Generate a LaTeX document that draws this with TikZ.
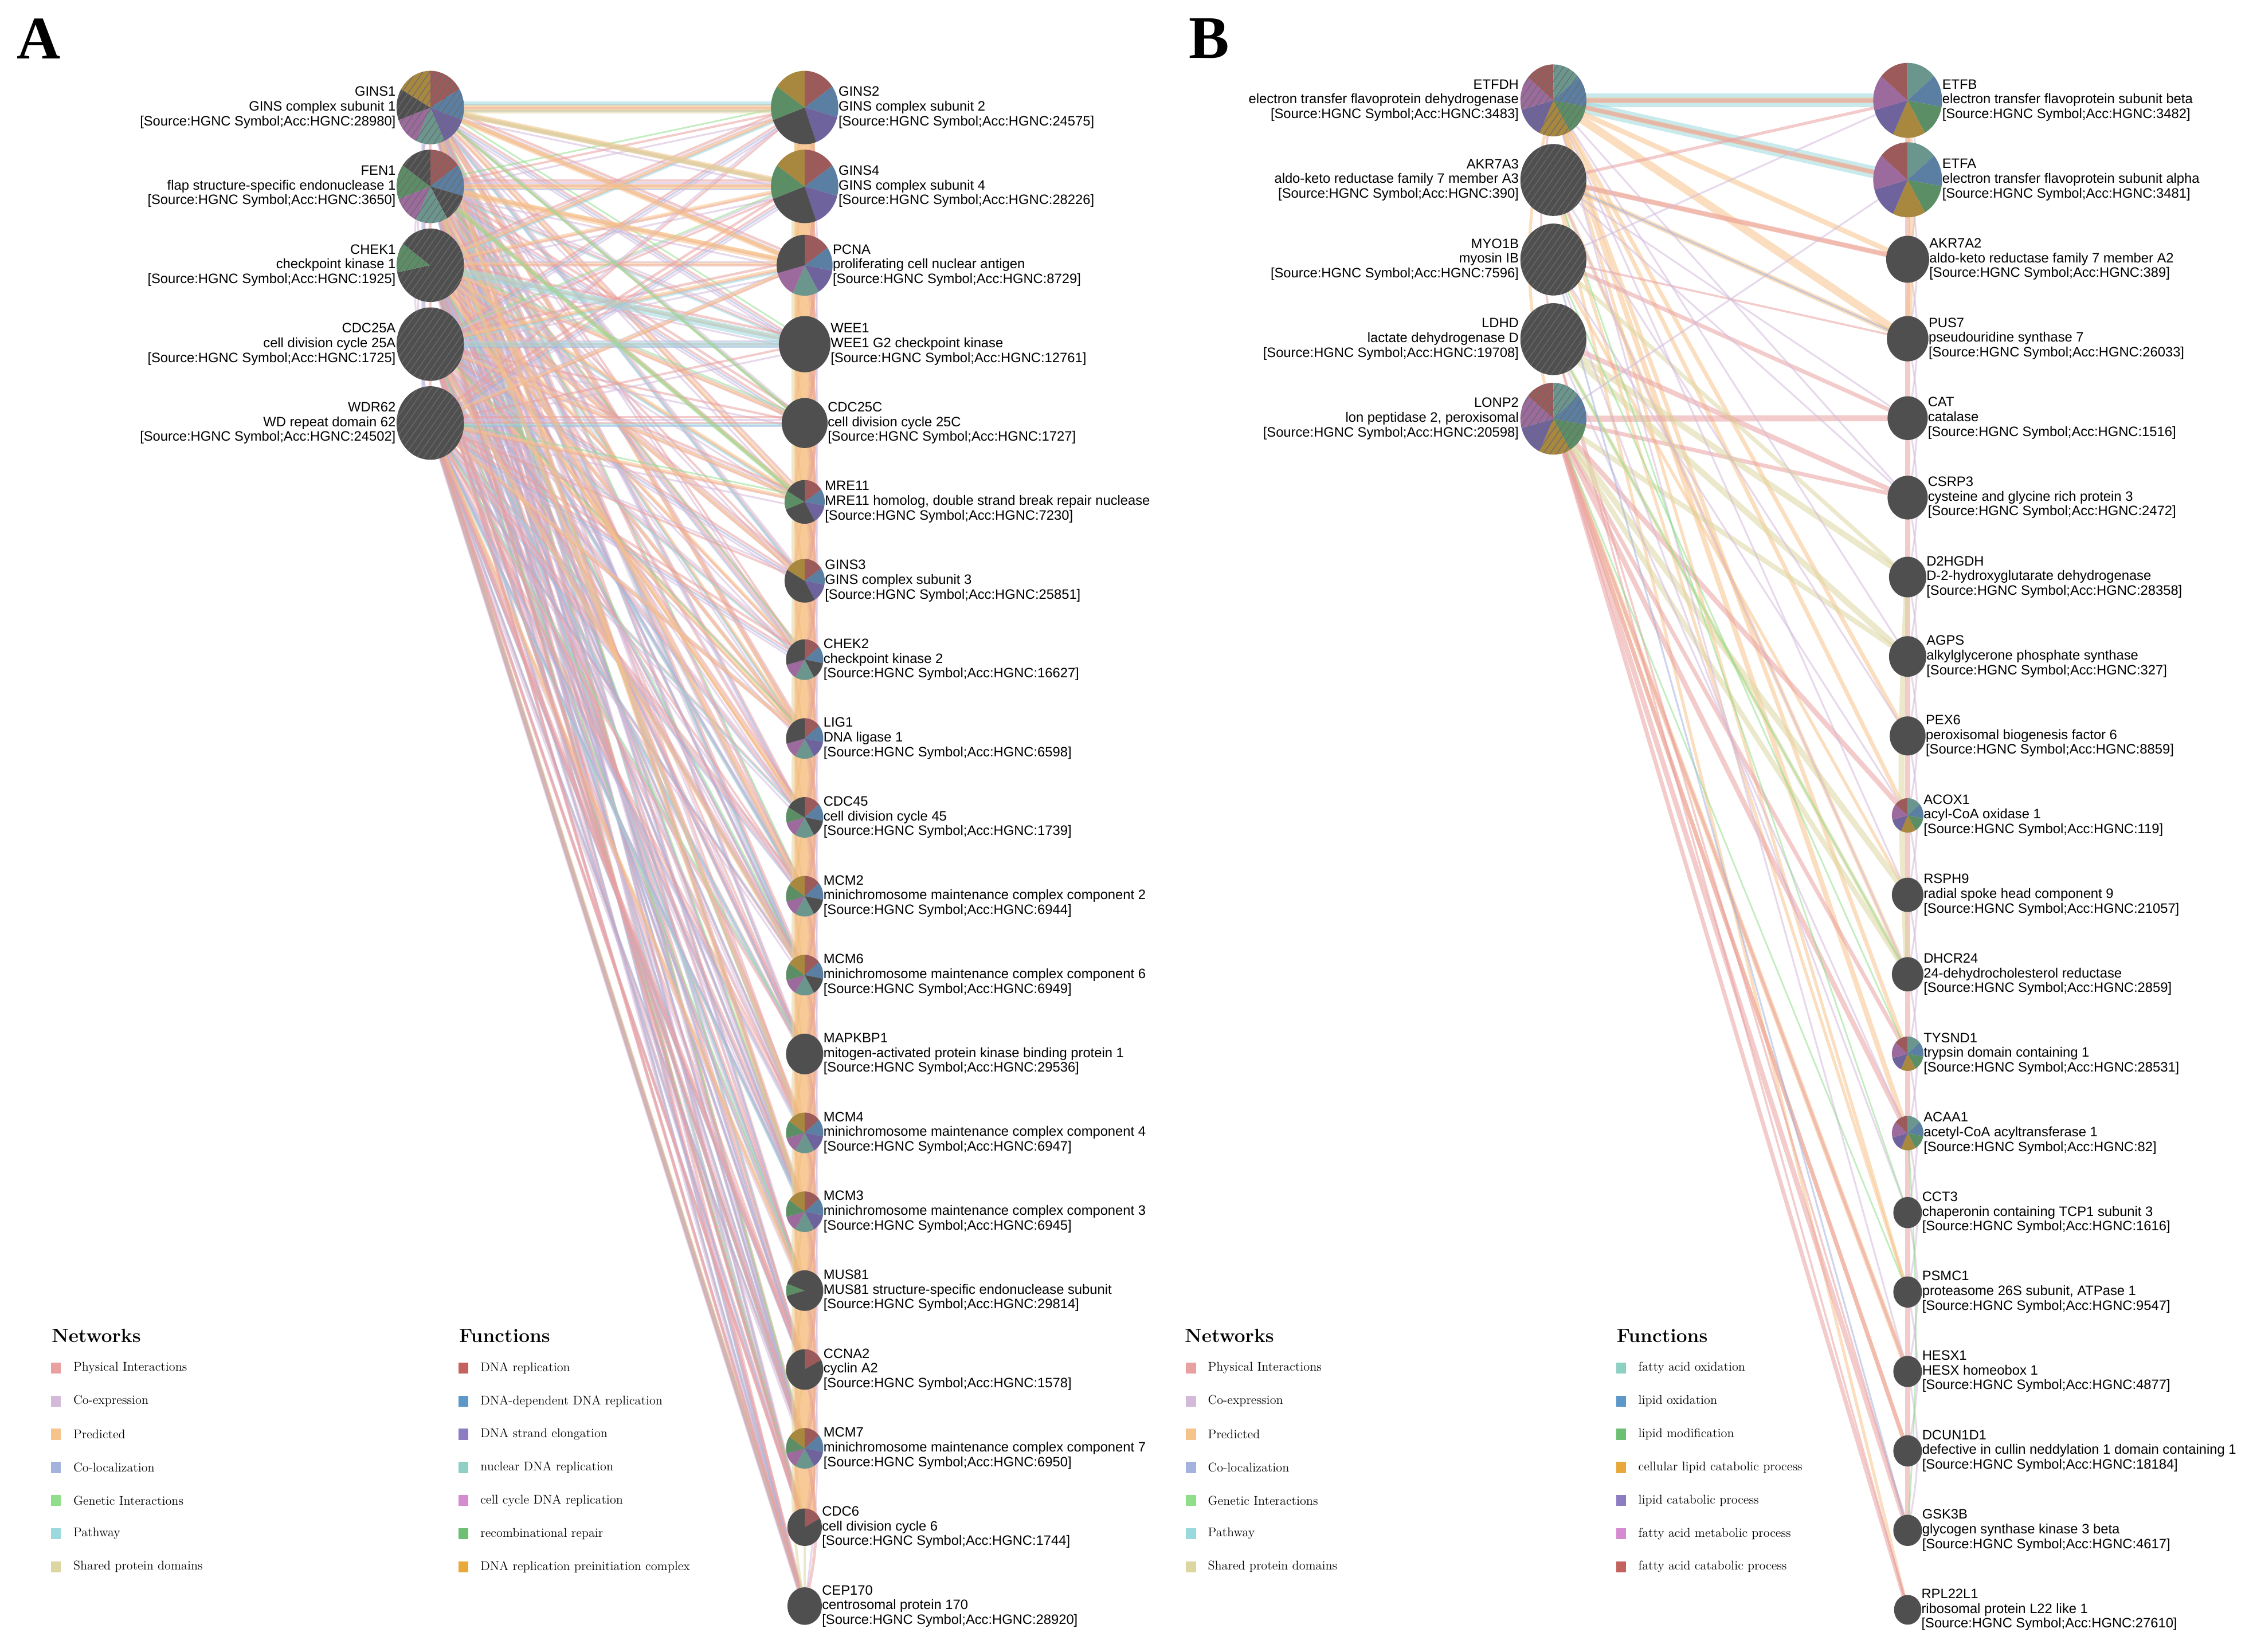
\documentclass[tikz,border=0pt]{standalone}
\usepackage{fontspec}
\usepackage{tikz}
\usetikzlibrary{calc,positioning,patterns.meta}
\newfontfamily\genefont{Liberation Sans}
\newfontfamily\panelfont{Liberation Serif}

\pgfdeclarelayer{bg}
\pgfsetlayers{bg,main}

% network colours
\definecolor{physc}{RGB}{233,160,160}
\definecolor{coexpc}{RGB}{211,186,219}
\definecolor{predc}{RGB}{246,195,138}
\definecolor{colocc}{RGB}{163,179,222}
\definecolor{genc}{RGB}{144,222,138}
\definecolor{pathc}{RGB}{154,217,222}
\definecolor{shdomc}{RGB}{220,214,161}
\definecolor{bandc}{RGB}{245,184,118}
% function colours
\definecolor{fred}{RGB}{196,98,94}
\definecolor{fblue}{RGB}{94,152,200}
\definecolor{fpurple}{RGB}{142,124,195}
\definecolor{fteal}{RGB}{143,208,197}
\definecolor{fpink}{RGB}{212,139,208}
\definecolor{fgreen}{RGB}{109,191,115}
\definecolor{fgold}{RGB}{232,168,58}
% pie slices
\definecolor{pcR}{RGB}{156,90,90}
\definecolor{pcB}{RGB}{90,127,163}
\definecolor{pcP}{RGB}{111,99,158}
\definecolor{pcT}{RGB}{107,150,142}
\definecolor{pcK}{RGB}{156,106,156}
\definecolor{pcG}{RGB}{92,142,102}
\definecolor{pcO}{RGB}{168,135,63}
\definecolor{pcD}{RGB}{79,79,79}
\definecolor{hatchc}{RGB}{108,108,108}

\newcommand{\hgnc}[1]{[Source:HGNC Symbol;Acc:HGNC:#1]}
% pie: centre, x radius, slices (from/to clockwise from top/colour)
\newcommand{\genepie}[3]{%
  \edef\pielist{#3}%
  \foreach \angA/\angB/\slc in \pielist
    \fill[\slc] (#1) -- ++({#2*cos(\angA-90)},{1.09*#2*sin(\angA-90)})
      arc[start angle=\angA-90, end angle=\angB-90, x radius=#2, y radius=1.09*#2] -- cycle;
}
\newcommand{\genehatch}[2]{%
  \fill[pattern={Lines[angle=55,distance=5.5pt,line width=.7pt]}, pattern color=hatchc]
    (#1) ellipse[x radius=#2, y radius=1.09*#2];
}

\def\pieDark{0/360/pcD}
\def\pieGINSone{0/60/pcR,60/110/pcB,110/155/pcP,155/205/pcT,205/250/pcK,250/300/pcD,300/360/pcO}
\def\pieFEN{0/55/pcR,55/105/pcB,105/150/pcD,150/205/pcT,205/250/pcK,250/305/pcG,305/360/pcD}
\def\pieCHEK{0/259/pcD,259/306/pcG,306/360/pcD}
\def\pieGINS{0/55/pcR,55/105/pcB,105/160/pcP,160/250/pcD,250/305/pcG,305/360/pcO}
\def\piePCNA{0/55/pcR,55/100/pcB,100/150/pcP,150/205/pcT,205/255/pcK,255/360/pcD}
\def\pieMRE{0/55/pcR,55/100/pcB,100/150/pcP,150/250/pcD,250/300/pcG,300/360/pcD}
\def\pieGINSthree{0/55/pcR,55/100/pcB,100/150/pcP,150/300/pcD,300/360/pcO}
\def\pieCHEKtwo{0/50/pcR,50/100/pcB,100/150/pcD,150/210/pcT,210/255/pcK,255/360/pcD}
\def\pieLIG{0/50/pcR,50/100/pcB,100/150/pcP,150/210/pcT,210/255/pcK,255/360/pcD}
\def\pieCDC{0/50/pcR,50/100/pcB,100/150/pcD,150/210/pcT,210/255/pcK,255/300/pcG,300/360/pcD}
\def\pieMCMa{0/50/pcR,50/100/pcB,100/150/pcD,150/210/pcT,210/255/pcK,255/305/pcG,305/360/pcO}
\def\pieMCMb{0/50/pcR,50/100/pcB,100/150/pcP,150/210/pcT,210/255/pcK,255/305/pcG,305/360/pcO}
\def\pieMUS{0/255/pcD,255/290/pcG,290/360/pcD}
\def\pieCCNA{0/62/pcR,62/360/pcD}
\def\pieETF{0/50/pcT,50/100/pcB,100/150/pcG,150/205/pcO,205/255/pcP,255/310/pcK,310/360/pcR}

\tikzset{
  netline/.style={line cap=round, opacity=.55},
  phys/.style={netline, draw=physc, line width=#1}, phys/.default=2.2pt,
  coexp/.style={netline, draw=coexpc, line width=#1}, coexp/.default=1.8pt,
  pred/.style={netline, draw=predc, line width=#1}, pred/.default=2pt,
  coloc/.style={netline, draw=colocc, line width=#1}, coloc/.default=1.8pt,
  genint/.style={netline, draw=genc, line width=#1}, genint/.default=1.6pt,
  pathw/.style={netline, draw=pathc, line width=#1}, pathw/.default=2pt,
  shdom/.style={netline, draw=shdomc, line width=#1}, shdom/.default=2pt,
  band/.style={line cap=round, opacity=.75, draw=bandc, line width=#1},
  glab/.style={font=\genefont\fontsize{13.5}{14.6}\selectfont, inner sep=0pt},
  llab/.style={glab, anchor=east, align=right},
  rlab/.style={glab, anchor=west, align=left},
  legsq/.style={minimum width=0.35cm, minimum height=0.39cm, inner sep=0pt},
  legtxt/.style={font=\fontsize{12.6}{14}\selectfont, inner sep=0pt, anchor=west},
  legtitle/.style={font=\bfseries\fontsize{19}{21}\selectfont, inner sep=0pt, anchor=base west},
  paneltitle/.style={font=\panelfont\bfseries\fontsize{60}{60}\selectfont, inner sep=0pt}
}

\begin{document}
\begin{tikzpicture}[x=0.05cm, y=-0.05cm]
\useasboundingbox (0,0) rectangle (1568,1152);

\node[paneltitle] (titleA) at (27,27) {A};
\node[paneltitle] (titleB) at (843,27) {B};

% ---- panel A: query genes
\foreach \q/\gn/\gd/\ga/\ps in {
  1/GINS1/GINS complex subunit 1/28980/\pieGINSone,
  2/FEN1/flap structure-specific endonuclease 1/3650/\pieFEN,
  3/CHEK1/checkpoint kinase 1/1925/\pieCHEK,
  4/CDC25A/cell division cycle 25A/1725/\pieDark,
  5/WDR62/WD repeat domain 62/24502/\pieDark}{
  \coordinate (aL\q) at (300,{75+55*(\q-1)});
  \genepie{aL\q}{23.5}{\ps}
  \genehatch{aL\q}{23.5}
  \node[llab] (aLt\q) at (276,{75+55*(\q-1)}) {\gn\\\gd\\\hgnc{\ga}};
}
% ---- panel A: related genes
\foreach \q/\rad/\gn/\gd/\ga/\ps in {
  1/23.5/GINS2/GINS complex subunit 2/24575/\pieGINS,
  2/23.5/GINS4/GINS complex subunit 4/28226/\pieGINS,
  3/19.5/PCNA/proliferating cell nuclear antigen/8729/\piePCNA,
  4/18/WEE1/WEE1 G2 checkpoint kinase/12761/\pieDark,
  5/16/CDC25C/cell division cycle 25C/1727/\pieDark,
  6/14/MRE11/{MRE11 homolog, double strand break repair nuclease}/7230/\pieMRE,
  7/14/GINS3/GINS complex subunit 3/25851/\pieGINSthree,
  8/13/CHEK2/checkpoint kinase 2/16627/\pieCHEKtwo,
  9/13/LIG1/DNA ligase 1/6598/\pieLIG,
  10/13/CDC45/cell division cycle 45/1739/\pieCDC,
  11/13/MCM2/minichromosome maintenance complex component 2/6944/\pieMCMa,
  12/13/MCM6/minichromosome maintenance complex component 6/6949/\pieMCMa,
  13/13/MAPKBP1/mitogen-activated protein kinase binding protein 1/29536/\pieDark,
  14/13/MCM4/minichromosome maintenance complex component 4/6947/\pieMCMb,
  15/13/MCM3/minichromosome maintenance complex component 3/6945/\pieMCMb,
  16/13/MUS81/MUS81 structure-specific endonuclease subunit/29814/\pieMUS,
  17/13/CCNA2/cyclin A2/1578/\pieCCNA,
  18/13/MCM7/minichromosome maintenance complex component 7/6950/\pieMCMb,
  19/12/CDC6/cell division cycle 6/1744/\pieCCNA,
  20/12/CEP170/centrosomal protein 170/28920/\pieDark}{
  \coordinate (aR\q) at (561,{75+55*(\q-1)});
  \genepie{aR\q}{\rad}{\ps}
  \node[rlab] (aRt\q) at ({561+\rad},{75+55*(\q-1)}) {\gn\\\gd\\\hgnc{\ga}};
}

% ---- panel B: query genes
\foreach \q/\gn/\gd/\ga/\ps in {
  1/ETFDH/electron transfer flavoprotein dehydrogenase/3483/\pieETF,
  2/AKR7A3/aldo-keto reductase family 7 member A3/390/\pieDark,
  3/MYO1B/myosin IB/7596/\pieDark,
  4/LDHD/lactate dehydrogenase D/19708/\pieDark,
  5/LONP2/{lon peptidase 2, peroxisomal}/20598/\pieETF}{
  \coordinate (bL\q) at (1083,{70+55.5*(\q-1)});
  \genepie{bL\q}{23}{\ps}
  \genehatch{bL\q}{23}
  \node[llab] (bLt\q) at (1059,{70+55.5*(\q-1)}) {\gn\\\gd\\\hgnc{\ga}};
}
% ---- panel B: related genes
\foreach \q/\rad/\gn/\gd/\ga/\ps in {
  1/24/ETFB/electron transfer flavoprotein subunit beta/3482/\pieETF,
  2/24/ETFA/electron transfer flavoprotein subunit alpha/3481/\pieETF,
  3/15/AKR7A2/aldo-keto reductase family 7 member A2/389/\pieDark,
  4/14.5/PUS7/pseudouridine synthase 7/26033/\pieDark,
  5/14/CAT/catalase/1516/\pieDark,
  6/14/CSRP3/cysteine and glycine rich protein 3/2472/\pieDark,
  7/13/D2HGDH/D-2-hydroxyglutarate dehydrogenase/28358/\pieDark,
  8/13/AGPS/alkylglycerone phosphate synthase/327/\pieDark,
  9/12.5/PEX6/peroxisomal biogenesis factor 6/8859/\pieDark,
  10/11/ACOX1/acyl-CoA oxidase 1/119/\pieETF,
  11/11/RSPH9/radial spoke head component 9/21057/\pieDark,
  12/11/DHCR24/24-dehydrocholesterol reductase/2859/\pieDark,
  13/11/TYSND1/trypsin domain containing 1/28531/\pieETF,
  14/11/ACAA1/acetyl-CoA acyltransferase 1/82/\pieETF,
  15/10/CCT3/chaperonin containing TCP1 subunit 3/1616/\pieDark,
  16/10/PSMC1/{proteasome 26S subunit, ATPase 1}/9547/\pieDark,
  17/10/HESX1/HESX homeobox 1/4877/\pieDark,
  18/10/DCUN1D1/defective in cullin neddylation 1 domain containing 1/18184/\pieDark,
  19/10/GSK3B/glycogen synthase kinase 3 beta/4617/\pieDark,
  20/9.5/RPL22L1/ribosomal protein L22 like 1/27610/\pieDark}{
  \coordinate (bR\q) at (1330,{70+55.4*(\q-1)});
  \genepie{bR\q}{\rad}{\ps}
  \node[rlab] (bRt\q) at ({1330+\rad},{70+55.4*(\q-1)}) {\gn\\\gd\\\hgnc{\ga}};
}

\begin{pgfonlayer}{bg}
% panel A: query genes to related genes
\foreach \i in {1,...,5}
  \foreach \j in {1,...,20}{
    \draw[phys] (aL\i) -- (aR\j);
    \pgfmathtruncatemacro\ka{mod(\i+\j,2)}
    \pgfmathtruncatemacro\kb{mod(\i*\j,3)}
    \pgfmathtruncatemacro\kc{mod(\i+2*\j,5)}
    \pgfmathtruncatemacro\kd{mod(3*\i+\j,7)}
    \pgfmathtruncatemacro\ke{mod(\i+\j,3)}
    \ifnum\ka=0 \draw[coexp] ([yshift=3pt]aL\i) -- ([yshift=3pt]aR\j);\fi
    \ifnum\ka=1 \draw[coexp] ([yshift=-6pt]aL\i) -- ([yshift=-6pt]aR\j);\fi
    \ifnum\kb=1 \draw[coloc] ([yshift=-3pt]aL\i) -- ([yshift=-3pt]aR\j);\fi
    \ifnum\kb=0
      \ifnum\j<11 \draw[pred=3pt] ([yshift=1.5pt]aL\i) -- ([yshift=1.5pt]aR\j);
      \else \draw[coloc=2.2pt] ([yshift=1.5pt]aL\i) -- ([yshift=1.5pt]aR\j);\fi
    \fi
    \ifnum\ke=1 \draw[phys=2.5pt] ([yshift=6pt]aL\i) -- ([yshift=6pt]aR\j);\fi
    \ifnum\kc=0 \draw[pathw] ([yshift=-1.5pt]aL\i) -- ([yshift=-1.5pt]aR\j);\fi
    \ifnum\kd=0 \draw[genint] ([yshift=5pt]aL\i) -- ([yshift=5pt]aR\j);\fi
  }
\foreach \i/\j/\w in {1/1/7pt,1/2/6pt,2/2/5pt,1/3/5pt,2/3/6pt,2/11/4pt,2/14/4pt,1/15/4pt,3/10/3pt,4/12/4pt,5/16/4pt}
  \draw[pred=\w] (aL\i) -- (aR\j);
\foreach \i/\j/\w in {5/20/4pt,5/19/3pt,4/20/3pt,4/18/3pt,3/19/3pt,5/17/3pt}
  \draw[phys=\w] (aL\i) -- (aR\j);
\draw[pathw=8pt] (aL3) -- (aR4);
\draw[pathw=5pt] (aL4) -- (aR4);
\draw[pathw=4pt] ([yshift=4pt]aL1) -- ([yshift=4pt]aR1);
\draw[genint=4pt] (aL2) -- (aR6);
\draw[genint=3pt] (aL1) -- (aR5);
\draw[shdom=4pt] ([yshift=-4pt]aL1) -- ([yshift=-4pt]aR1);
\draw[shdom=4pt] (aL1) -- (aR2);
% panel A: among related genes
\foreach \j [evaluate=\j as \k using int(\j+3)] in {1,...,17}
  \draw[shdom=2.5pt] (aR\j) to[bend right=10] (aR\k);
\foreach \j [evaluate=\j as \k using int(\j+4)] in {1,...,16}
  \draw[coexp] (aR\j) to[bend left=8] (aR\k);
\foreach \j [evaluate=\j as \k using int(\j+1)] in {1,...,18}
  \draw[band=20pt] (aR\j) -- (aR\k);
\foreach \j [evaluate=\j as \k using int(\j+2)] in {1,...,18}
  \draw[phys=3pt] (aR\j) to[bend left=14] (aR\k);
\draw[shdom=2pt] (aR19) -- (aR20);
% panel A: among query genes
\foreach \i/\k in {1/2,2/3,3/4,4/5}{
  \draw[phys=3pt] (aL\i) -- (aL\k);
  \draw[coloc=2pt] (aL\i) to[bend right=20] (aL\k);
}
\foreach \i/\k in {1/3,2/4,3/5,1/4,2/5,1/5}
  \draw[coexp] (aL\i) to[bend right=10] (aL\k);

% panel B: query genes to related genes
\draw[pathw=14pt] (bL1) -- (bR1);
\draw[pathw=12pt] (bL1) -- (bR2);
\foreach \i/\j/\w in {1/1/6pt,1/2/5pt,1/3/5pt,1/4/8pt,2/3/4pt,2/4/5pt,1/9/4pt,1/10/4pt,2/12/4pt,1/13/4pt,1/14/5pt,2/16/3pt,5/17/5pt,5/18/4pt,3/11/3pt,1/16/3pt,2/20/3pt}
  \draw[pred=\w] (bL\i) -- (bR\j);
\foreach \i/\j/\w in {1/1/4pt,1/2/4pt,2/3/5pt,3/5/4pt,4/6/5pt,5/5/6pt,5/6/4pt,5/10/5pt,5/13/4pt,5/14/5pt,5/17/3pt,5/18/4pt,5/19/5pt,5/20/4pt,4/19/2pt,4/20/2pt,2/1/3pt,3/4/2pt}
  \draw[phys=\w] (bL\i) -- (bR\j);
\foreach \i/\j/\w in {4/7/6pt,4/8/6pt,5/8/5pt,5/11/6pt,5/12/5pt,3/7/4pt,4/12/4pt}
  \draw[shdom=\w] (bL\i) -- (bR\j);
\foreach \i/\j in {2/5,2/6,3/1,1/8,1/11,2/12,3/15,1/17,2/9,4/14,3/10,1/6,5/2}
  \draw[coexp] (bL\i) -- (bR\j);
\foreach \i/\j in {3/13,4/12,5/16,2/15}
  \draw[genint] (bL\i) -- (bR\j);
\foreach \i/\j in {2/4,3/19}
  \draw[coloc] (bL\i) -- (bR\j);
% panel B: among related genes
\foreach \j [evaluate=\j as \k using int(\j+1)] in {1,...,18}
  \draw[phys=5pt] (bR\j) -- (bR\k);
\foreach \j [evaluate=\j as \k using int(\j+2)] in {1,...,17}
  \draw[coexp] (bR\j) to[bend left=12] (bR\k);
\draw[pred=6pt] (bR1) to[bend left=3] (bR4);
\draw[shdom=6pt] (bR7) to[bend right=3] (bR12);
\draw[genint] (bR14) to[bend left=4] (bR19);
% panel B: among query genes
\draw[pred=3pt] (bL1) to[bend right=15] (bL5);
\draw[phys=2pt] (bL1) to[bend right=10] (bL4);
\end{pgfonlayer}

% ---- legends
\node[legtitle] (aNet) at (36,936) {Networks};
\node[legtitle] (aFun) at (320,936) {Functions};
\node[legtitle] (bNet) at (826,936) {Networks};
\node[legtitle] (bFun) at (1127,936) {Functions};
\foreach \c/\t [count=\q] in {physc/Physical Interactions,coexpc/Co-expression,predc/Predicted,
    colocc/Co-localization,genc/Genetic Interactions,pathc/Pathway,shdomc/Shared protein domains}{
  \node[legsq, fill=\c] (aN\q) at (39,{954+23.1*(\q-1)}) {};
  \node[legtxt, right=0.42cm of aN\q] (aNt\q) {\t};
  \node[legsq, fill=\c] (bN\q) at (830.4,{954+23.1*(\q-1)}) {};
  \node[legtxt, right=0.4cm of bN\q] (bNt\q) {\t};
}
\foreach \c/\t [count=\q] in {fred/DNA replication,fblue/DNA-dependent DNA replication,fpurple/DNA strand elongation,
    fteal/nuclear DNA replication,fpink/cell cycle DNA replication,fgreen/recombinational repair,
    fgold/DNA replication preinitiation complex}{
  \node[legsq, fill=\c] (aF\q) at (323,{954+23.1*(\q-1)}) {};
  \node[legtxt, right=0.41cm of aF\q] (aFt\q) {\t};
}
\foreach \c/\t [count=\q] in {fteal/fatty acid oxidation,fblue/lipid oxidation,fgreen/lipid modification,
    fgold/cellular lipid catabolic process,fpurple/lipid catabolic process,fpink/fatty acid metabolic process,
    fred/fatty acid catabolic process}{
  \node[legsq, fill=\c] (bF\q) at (1130.3,{954+23.1*(\q-1)}) {};
  \node[legtxt, right=0.41cm of bF\q] (bFt\q) {\t};
}
\end{tikzpicture}
\end{document}
